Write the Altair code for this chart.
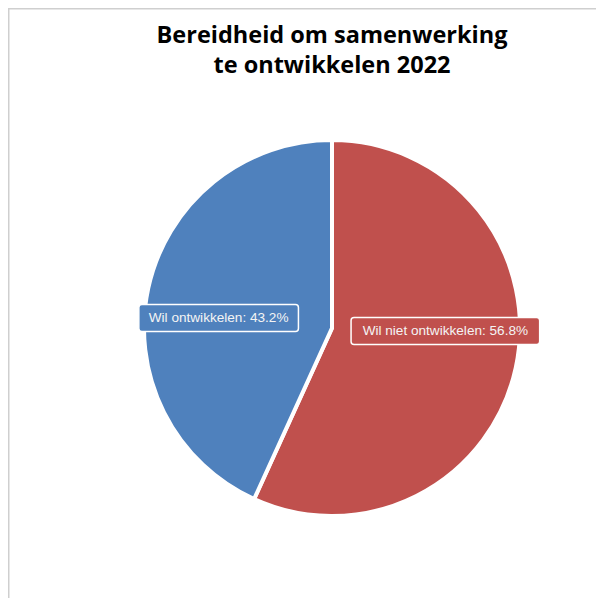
import math
import altair as alt
import pandas as pd

title_lines = ["Bereidheid om samenwerking", "te ontwikkelen 2022"]
categories = ["Wil niet ontwikkelen", "Wil ontwikkelen"]
values = [56.8, 43.2]
colors = ["#C0504D", "#4F81BD"]

W, H = 588, 590
CX, CY, R = 324, 320, 188

df = pd.DataFrame({"category": categories, "value": values, "idx": list(range(len(categories)))})

color = alt.Color("category:N", scale=alt.Scale(domain=categories, range=colors), legend=None)

pie = alt.Chart(df).mark_arc(outerRadius=R, stroke="white", strokeWidth=4).encode(
    theta=alt.Theta("value:Q", stack=True),
    color=color,
    order=alt.Order("idx:Q"),
    x=alt.value(CX),
    y=alt.value(CY),
)

lab = (
    alt.Chart(df)
    .transform_window(cum="sum(value)", sort=[alt.SortField("idx")], frame=[None, 0])
    .transform_joinaggregate(total="sum(value)")
    .transform_calculate(
        mid="(datum.cum - datum.value/2)/datum.total*2*PI",
        label="datum.category + ': ' + format(datum.value, '.1f') + '%'",
    )
    .transform_calculate(
        lx=f"{CX} + 116*sin(datum.mid)",
        ly=f"{CY - 3.5} - 31*cos(datum.mid)",
        hw="length(datum.label)*2.9 + 16",
    )
    .transform_calculate(
        x1="datum.lx - datum.hw", x2="datum.lx + datum.hw",
        y1="datum.ly - 13.5", y2="datum.ly + 13.5",
    )
)

boxes = lab.mark_rect(cornerRadius=3, stroke="white", strokeWidth=1.5).encode(
    x=alt.X("x1:Q", scale=None, axis=None),
    x2="x2:Q",
    y=alt.Y("y1:Q", scale=None, axis=None),
    y2="y2:Q",
    color=color,
)

texts = lab.mark_text(font="Liberation Sans", fontSize=13.6, color="#f4f4f4",
                      align="center", baseline="middle").encode(
    x=alt.X("lx:Q", scale=None, axis=None),
    y=alt.Y("ly:Q", scale=None, axis=None),
    text="label:N",
)

tdf = pd.DataFrame({"line": title_lines, "row": list(range(len(title_lines)))})
title = alt.Chart(tdf).transform_calculate(ty="35 + datum.row*30").mark_text(
    font="Open Sans", fontWeight="bold", fontSize=23.5, color="#000000",
    align="center", baseline="alphabetic"
).encode(
    x=alt.value(CX),
    y=alt.Y("ty:Q", scale=None, axis=None),
    text="line:N",
)

one = alt.Data(values=[{"a": 1}])
top_rule = alt.Chart(one).mark_rule(color="#cfcfcf", strokeWidth=1.5).encode(
    x=alt.value(0), x2=alt.value(W), y=alt.value(0.75))
left_rule = alt.Chart(one).mark_rule(color="#cfcfcf", strokeWidth=1.5).encode(
    x=alt.value(0.75), y=alt.value(0), y2=alt.value(H))

chart = alt.layer(top_rule, left_rule, title, pie, boxes, texts).properties(
    width=W, height=H, autosize=alt.AutoSizeParams(type="none"), padding=0,
    background="white",
).configure_view(stroke=None)

chart.save("out.html", embed_options={"renderer": "svg", "actions": False})
